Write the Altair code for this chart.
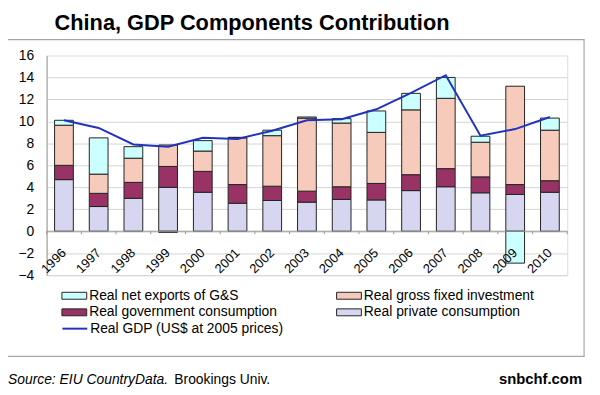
import altair as alt
import pandas as pd

years = [str(y) for y in range(1996, 2011)]
private = [4.7, 2.25, 3.0, 4.0, 3.55, 2.55, 2.8, 2.65, 2.9, 2.85, 3.7, 4.05, 3.5, 3.35, 3.55]
government = [1.3, 1.2, 1.45, 1.9, 1.9, 1.7, 1.3, 1.0, 1.15, 1.5, 1.45, 1.65, 1.45, 0.9, 1.05]
investment = [3.65, 1.75, 2.2, 1.95, 1.85, 4.25, 4.6, 6.65, 5.8, 4.65, 5.9, 6.4, 3.15, 8.95, 4.6]
net_exports = [0.45, 3.3, 1.05, -0.1, 0.95, 0.05, 0.5, 0.1, 0.4, 1.95, 1.5, 1.9, 0.55, -2.9, 1.1]
gdp = [10.1, 9.4, 7.9, 7.7, 8.5, 8.4, 9.15, 10.1, 10.2, 11.1, 12.6, 14.2, 8.7, 9.3, 10.4]

S_NET = "Real net exports of G&S"
S_INV = "Real gross fixed investment"
S_GOV = "Real government consumption"
S_PRI = "Real private consumption"
S_GDP = "Real GDP (US$ at 2005 prices)"

legend_order = [S_NET, S_GOV, S_INV, S_PRI]
colors = ["#ccffff", "#993366", "#f6cbbb", "#d6d6f0"]

rows = []
for name, vals, ordv in [(S_PRI, private, 1), (S_GOV, government, 2),
                         (S_INV, investment, 3), (S_NET, net_exports, 4)]:
    for y, v in zip(years, vals):
        rows.append({"year": y, "series": name, "value": v, "ord": ordv})
bars_df = pd.DataFrame(rows)
gdp_df = pd.DataFrame({"year": years, "gdp": gdp, "series": S_GDP})

FONT = "Liberation Sans"
W, H = 526, 222

xscale = alt.Scale(domain=years, paddingInner=0.46, paddingOuter=0.23)
yscale = alt.Scale(domain=[-4, 16], nice=False, zero=False)

x_axis = alt.Axis(title=None, labelAngle=-45, labelAlign="right",
                  labelBaseline="middle", labelPadding=-25, ticks=False,
                  domain=False, labelFontSize=13, labelFont=FONT,
                  labelColor="#000", zindex=2, labelOverlap=False)
y_axis = alt.Axis(title=None, values=list(range(-4, 17, 2)), ticks=False,
                  labelFontSize=14, labelFont=FONT, labelColor="#000",
                  labelPadding=13, domainColor="#999999", labelOverlap=False,
                  gridColor="#d4d4d4",
                  gridOpacity={"condition": {"test": "datum.value == 16", "value": 0}, "value": 1})

# frame
frame = alt.Chart(pd.DataFrame({"a": [0]})).mark_rect(
    fill=None, stroke="#a6a6a6", strokeWidth=1.2
).encode(x=alt.value(-40), x2=alt.value(543), y=alt.value(-16), y2=alt.value(304))

bars = alt.Chart(bars_df).mark_bar(stroke="#222222", strokeWidth=1).encode(
    x=alt.X("year:N", scale=xscale, sort=years, axis=x_axis),
    y=alt.Y("value:Q", stack="zero", scale=yscale, axis=y_axis),
    color=alt.Color("series:N", scale=alt.Scale(domain=legend_order, range=colors),
                    legend=alt.Legend(title=None, orient="none", legendX=20.5, legendY=235,
                                      columns=2, columnPadding=56.5, rowPadding=2,
                                      symbolType="M-1.79,-0.5H1.79V0.5H-1.79Z", symbolSize=196,
                                      symbolStrokeColor="#222222", symbolStrokeWidth=1,
                                      labelFontSize=14, labelFont=FONT, labelColor="#000",
                                      labelOffset=7.5, labelLimit=400)),
    order=alt.Order("ord:Q"),
)

zero = alt.Chart(pd.DataFrame({"a": [0]})).mark_rule(color="#999999", strokeWidth=1).encode(
    y=alt.datum(0, scale=yscale, axis=y_axis), x=alt.value(0), x2=alt.value(W))

ticks_df = pd.DataFrame({"year": years})
ticks_left = alt.Chart(ticks_df).mark_rule(color="#999999", xOffset=-17.5, y2Offset=3).encode(
    x=alt.X("year:N", scale=xscale, sort=years, axis=x_axis),
    y=alt.datum(0, scale=yscale, axis=y_axis), y2=alt.datum(0))
ticks_right = alt.Chart(pd.DataFrame({"year": [years[-1]]})).mark_rule(
    color="#999999", xOffset=17.5, y2Offset=3).encode(
    x=alt.X("year:N", scale=xscale, sort=years, axis=x_axis),
    y=alt.datum(0, scale=yscale, axis=y_axis), y2=alt.datum(0))

line = alt.Chart(gdp_df).mark_line(strokeWidth=2).encode(
    x=alt.X("year:N", scale=xscale, sort=years, axis=x_axis),
    y=alt.Y("gdp:Q", scale=yscale, axis=y_axis),
    stroke=alt.Stroke("series:N", scale=alt.Scale(domain=[S_GDP], range=["#2233bb"]),
                      legend=alt.Legend(title=None, orient="none", legendX=20.5, legendY=268,
                                        symbolType="M-1.79,0H1.79", symbolSize=196,
                                        symbolStrokeWidth=2,
                                        labelFontSize=14, labelFont=FONT, labelColor="#000",
                                        labelOffset=7.5, labelLimit=400)),
)

def txt(t, x, y, size, weight="normal", style="normal", align="left"):
    return alt.Chart(pd.DataFrame({"t": [t]})).mark_text(
        font=FONT, fontSize=size, fontWeight=weight, fontStyle=style, align=align,
        baseline="alphabetic", color="#000"
    ).encode(text="t:N", x=alt.value(x), y=alt.value(y))

title = txt("China, GDP Components Contribution", 8, -26, 22, weight="bold")
src1 = txt("Source: EIU CountryData.", -39, 332, 14, style="italic")
src2 = txt("Brookings Univ.", 129, 332, 14)
credit = txt("snbchf.com", 541, 332, 15, weight="bold", align="right")

chart = alt.layer(frame, bars, zero, ticks_left, ticks_right, line,
                  title, src1, src2, credit).properties(
    width=W, height=H,
    padding={"left": 39, "top": 46, "right": 25, "bottom": 112},
    autosize=alt.AutoSizeParams(type="none"),
).configure_view(stroke=None).configure(background="white")

chart.save("out.html", embed_options={"renderer": "svg", "actions": False})
